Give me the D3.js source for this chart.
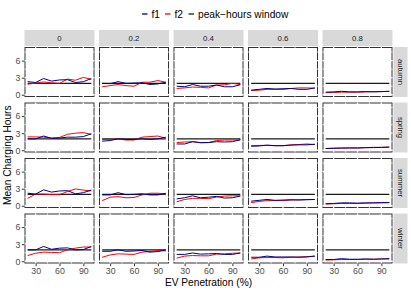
<!DOCTYPE html>
<html>
<head>
<meta charset="utf-8">
<script src="https://cdn.jsdelivr.net/npm/d3@7"></script>
<style>
  body { margin: 0; background: #fff; }
  svg { display: block; font-family: "Liberation Sans", Arial, sans-serif; }
</style>
</head>
<body>
<div id="chart"></div>
<script>
// facets
const seasons = ["autumn", "spring", "summer", "winter"];
const shares = ["0", "0.2", "0.4", "0.6", "0.8"];
// x values (EV penetration, %)
const evPen = [20, 30, 40, 50, 60, 70, 80, 90, 100];
const xTicks = [30, 60, 90];
const yTicks = [0, 3, 6];

// peak-hours window level per share column
const peakWindow = [2, 2, 2, 2, 2];

// f1 mean charging hours, one row per share column
const f1Autumn = [
  [2.3, 2.15, 2.85, 2.4, 2.6, 2.65, 2.15, 2.3, 2.85],
  [2.0, 1.95, 2.3, 2.0, 2.05, 2.1, 1.8, 1.9, 2.2],
  [1.5, 1.4, 1.8, 1.5, 1.5, 1.7, 1.4, 1.4, 1.75],
  [0.8, 0.95, 1.1, 1.0, 1.05, 1.1, 0.95, 0.95, 1.2],
  [0.45, 0.5, 0.6, 0.5, 0.5, 0.55, 0.5, 0.55, 0.6]
];
const f1Spring = [
  [2.0, 2.0, 2.5, 2.1, 2.15, 2.3, 2.3, 2.4, 2.9],
  [1.6, 1.7, 2.0, 1.9, 1.9, 2.0, 1.9, 2.0, 2.3],
  [1.1, 1.1, 1.5, 1.35, 1.35, 1.5, 1.45, 1.5, 1.85],
  [0.7, 0.75, 0.9, 0.8, 0.8, 0.9, 0.95, 0.95, 1.05],
  [0.3, 0.35, 0.4, 0.4, 0.4, 0.45, 0.5, 0.5, 0.55]
];
const f1Summer = [
  [2.2, 2.05, 2.8, 2.4, 2.6, 2.65, 2.1, 2.3, 2.75],
  [1.9, 1.9, 2.3, 1.95, 2.0, 2.1, 1.9, 1.9, 2.2],
  [1.2, 1.4, 1.75, 1.4, 1.5, 1.65, 1.35, 1.4, 1.7],
  [0.8, 0.95, 1.1, 0.95, 1.0, 1.05, 1.0, 1.05, 1.1],
  [0.35, 0.4, 0.5, 0.5, 0.45, 0.5, 0.5, 0.55, 0.55]
];
const f1Winter = [
  [2.0, 2.0, 2.6, 2.1, 2.3, 2.35, 2.0, 2.05, 2.6],
  [1.75, 1.75, 2.0, 1.75, 1.8, 1.9, 1.6, 1.7, 2.0],
  [1.2, 1.2, 1.45, 1.25, 1.3, 1.35, 1.2, 1.2, 1.45],
  [0.7, 0.7, 0.9, 0.75, 0.75, 0.75, 0.7, 0.75, 0.9],
  [0.3, 0.3, 0.45, 0.35, 0.35, 0.4, 0.35, 0.4, 0.45]
];

// f2 mean charging hours
const f2Autumn = [
  [1.85, 2.05, 2.25, 2.1, 2.0, 2.75, 2.55, 3.05, 2.7],
  [1.4, 1.6, 1.8, 1.6, 1.5, 2.2, 2.2, 2.5, 2.2],
  [1.1, 1.2, 1.35, 1.3, 1.2, 1.7, 1.75, 2.0, 1.8],
  [0.75, 0.8, 0.95, 0.95, 0.95, 1.1, 1.2, 1.2, 1.15],
  [0.35, 0.4, 0.45, 0.45, 0.45, 0.5, 0.55, 0.55, 0.6]
];
const f2Spring = [
  [2.35, 2.35, 2.3, 2.15, 2.25, 2.8, 3.0, 3.1, 2.8],
  [1.9, 1.9, 2.0, 1.8, 1.8, 2.3, 2.4, 2.5, 2.1],
  [1.35, 1.45, 1.5, 1.3, 1.35, 1.7, 1.8, 1.8, 1.8],
  [0.8, 0.85, 0.85, 0.8, 0.8, 0.95, 1.0, 1.1, 1.0],
  [0.3, 0.35, 0.35, 0.4, 0.4, 0.45, 0.45, 0.5, 0.55]
];
const f2Summer = [
  [1.3, 2.05, 2.05, 1.95, 1.95, 2.5, 2.95, 2.75, 2.6],
  [0.9, 1.5, 1.6, 1.4, 1.45, 1.9, 2.2, 2.2, 2.05],
  [0.7, 1.1, 1.3, 1.3, 1.25, 1.5, 1.7, 1.75, 1.75],
  [0.55, 0.75, 0.9, 0.9, 0.9, 1.0, 1.05, 1.1, 1.1],
  [0.3, 0.35, 0.4, 0.4, 0.4, 0.45, 0.5, 0.5, 0.55]
];
const f2Winter = [
  [1.0, 1.4, 1.6, 1.55, 1.5, 2.0, 2.3, 2.5, 2.5],
  [0.7, 1.1, 1.3, 1.25, 1.2, 1.6, 1.7, 1.9, 1.8],
  [0.55, 0.9, 1.0, 0.95, 0.95, 1.25, 1.3, 1.4, 1.45],
  [0.4, 0.6, 0.65, 0.65, 0.6, 0.7, 0.75, 0.8, 0.9],
  [0.2, 0.25, 0.3, 0.3, 0.3, 0.35, 0.35, 0.4, 0.4]
];

const f1 = [f1Autumn, f1Spring, f1Summer, f1Winter];
const f2 = [f2Autumn, f2Spring, f2Summer, f2Winter];

const W = 411, H = 294;
const panelW = 70, panelH = 50, gapX = 4.5, gapY = 5.5;
const left0 = 24.5, top0 = 47;
const stripH = 16, stripW = 14;

const colF1 = "#00008B", colF2 = "#FF0000", colPeak = "#1a1a1a";
const ink = "#333333", tickTxt = "#4D4D4D";

const svg = d3.select("#chart").append("svg")
  .attr("width", W).attr("height", H);

const x = d3.scaleLinear().domain([16, 104]).range([0, panelW]);
const y = d3.scaleLinear().domain([-0.4, 8.4]).range([panelH, 0]);

const line = d3.line()
  .x((d, i) => x(evPen[i]))
  .y(d => y(d));

// legend
const legend = svg.append("g").attr("transform", "translate(0,14)");
const legItems = [
  { label: "f1", color: colF1, x: 142 },
  { label: "f2", color: colF2, x: 165 },
  { label: "peak\u2212hours window", color: colPeak, x: 188.5 }
];
legItems.forEach(d => {
  legend.append("line")
    .attr("x1", d.x).attr("x2", d.x + 5.5)
    .attr("y1", 0).attr("y2", 0)
    .attr("stroke", d.color).attr("stroke-width", 1.3);
  legend.append("text")
    .attr("x", d.x + 9.5).attr("y", 3.6)
    .attr("font-size", 10.2).attr("fill", "#000")
    .text(d.label);
});

seasons.forEach((s, r) => {
  const py = top0 + r * (panelH + gapY);

  // right strip
  const rs = svg.append("g")
    .attr("transform", `translate(${left0 + 5 * panelW + 4 * gapX + 1},${py})`);
  rs.append("rect").attr("width", stripW).attr("height", panelH).attr("fill", "#D9D9D9");
  rs.append("text")
    .attr("transform", `translate(${stripW / 2 - 2.6},${panelH / 2}) rotate(90)`)
    .attr("text-anchor", "middle")
    .attr("font-size", 7.8).attr("fill", "#1A1A1A")
    .text(s);

  shares.forEach((sh, c) => {
    const px = left0 + c * (panelW + gapX);

    if (r === 0) {
      const ts = svg.append("g").attr("transform", `translate(${px},${top0 - stripH - 1})`);
      ts.append("rect").attr("width", panelW).attr("height", stripH).attr("fill", "#D9D9D9");
      ts.append("text")
        .attr("x", panelW / 2).attr("y", stripH / 2 + 2.8)
        .attr("text-anchor", "middle")
        .attr("font-size", 7.8).attr("fill", "#1A1A1A")
        .text(sh);
    }

    const g = svg.append("g").attr("transform", `translate(${px},${py})`);

    // panel background with border, white grid drawn over it
    g.append("rect")
      .attr("x", 0.5).attr("y", 0.5)
      .attr("width", panelW - 1).attr("height", panelH - 1)
      .attr("fill", "#fff").attr("stroke", ink).attr("stroke-width", 1);

    [1.5, 4.5, 7.5].forEach(v => {
      g.append("line").attr("x1", 0).attr("x2", panelW)
        .attr("y1", y(v)).attr("y2", y(v))
        .attr("stroke", "#fff").attr("stroke-width", 0.8);
    });
    yTicks.forEach(v => {
      g.append("line").attr("x1", 0).attr("x2", panelW)
        .attr("y1", y(v)).attr("y2", y(v))
        .attr("stroke", "#fff").attr("stroke-width", 1.3);
    });
    [45, 75].forEach(v => {
      g.append("line").attr("y1", 0).attr("y2", panelH)
        .attr("x1", x(v)).attr("x2", x(v))
        .attr("stroke", "#fff").attr("stroke-width", 0.8);
    });
    xTicks.forEach(v => {
      g.append("line").attr("y1", 0).attr("y2", panelH)
        .attr("x1", x(v)).attr("x2", x(v))
        .attr("stroke", "#fff").attr("stroke-width", 1.3);
    });

    // peak-hours window
    g.append("line")
      .attr("x1", x(evPen[0])).attr("x2", x(evPen[evPen.length - 1]))
      .attr("y1", y(peakWindow[c])).attr("y2", y(peakWindow[c]))
      .attr("stroke", colPeak).attr("stroke-width", 1.2);

    g.append("path").attr("d", line(f2[r][c]))
      .attr("fill", "none").attr("stroke", colF2).attr("stroke-width", 1);
    g.append("path").attr("d", line(f1[r][c]))
      .attr("fill", "none").attr("stroke", colF1).attr("stroke-width", 1);

    // y axis on first column
    if (c === 0) {
      const ya = g.append("g").call(d3.axisLeft(y).tickValues(yTicks).tickSize(2.7).tickPadding(1.5));
      ya.select(".domain").remove();
      ya.selectAll("line").attr("stroke", ink);
      ya.selectAll("text").attr("font-size", 8.8).attr("fill", tickTxt)
        .attr("font-family", "Liberation Sans, Arial, sans-serif");
    }
    // x axis on last row
    if (r === seasons.length - 1) {
      const xa = g.append("g").attr("transform", `translate(0,${panelH})`)
        .call(d3.axisBottom(x).tickValues(xTicks).tickSize(2.7).tickPadding(1.5));
      xa.select(".domain").remove();
      xa.selectAll("line").attr("stroke", ink);
      xa.selectAll("text").attr("font-size", 8.8).attr("fill", tickTxt)
        .attr("font-family", "Liberation Sans, Arial, sans-serif");
    }
  });
});

// axis titles
const plotMidX = left0 + (5 * panelW + 4 * gapX) / 2;
const plotMidY = top0 + (4 * panelH + 3 * gapY) / 2;
svg.append("text")
  .attr("x", plotMidX).attr("y", 286)
  .attr("text-anchor", "middle")
  .attr("font-size", 10.2).attr("fill", "#000")
  .text("EV Penetration (%)");
svg.append("text")
  .attr("transform", `translate(10.5,${plotMidY}) rotate(-90)`)
  .attr("text-anchor", "middle")
  .attr("font-size", 10.2).attr("fill", "#000")
  .text("Mean Charging Hours");
</script>
</body>
</html>
